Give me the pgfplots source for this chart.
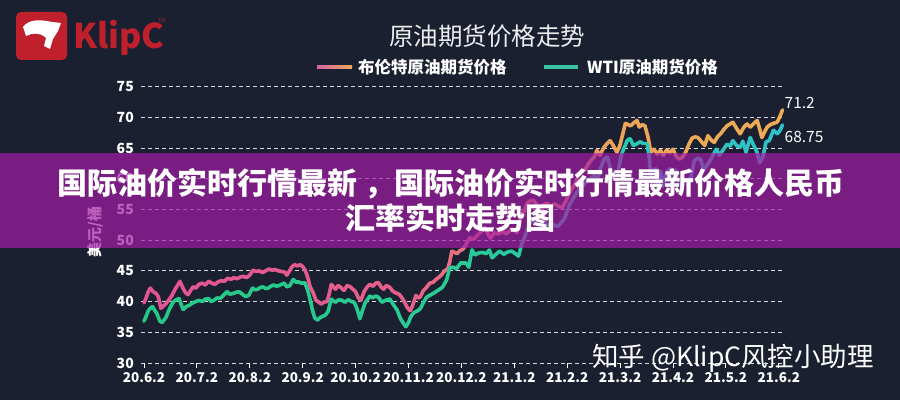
\documentclass[border=0pt]{standalone}
\usepackage{pgfplots}
\usepackage{pgfplotstable}
\pgfplotsset{compat=1.18}
\usepackage{fontspec}
\setmainfont{Noto Sans CJK SC}

\definecolor{bgnavy}{RGB}{26,32,48}
\definecolor{gridwhite}{RGB}{215,218,225}
\definecolor{bannerpurple}{RGB}{163,29,165}
\definecolor{klipred}{RGB}{192,32,44}
\definecolor{brentpink}{RGB}{212,100,170}
\definecolor{brentorange}{RGB}{236,170,84}
\definecolor{wtiteal}{RGB}{60,197,164}

\pgfplotsset{
  colormap={brentmap}{rgb255(0cm)=(226,84,148) rgb255(5cm)=(229,96,138) rgb255(7cm)=(233,130,118) rgb255(9cm)=(236,165,90) rgb255(12cm)=(237,172,84)},
  colormap={wtimap}{rgb255(0cm)=(38,200,134) rgb255(6cm)=(42,202,150) rgb255(9cm)=(44,198,180) rgb255(12cm)=(48,192,200)},
}

% Brent futures, x = months since 2020-06-02
\pgfplotstableread{
m p
0.00 39.8
0.04 40.6
0.08 41.6
0.12 42.2
0.17 41.6
0.22 41.4
0.27 40.8
0.32 38.9
0.37 39.3
0.42 39.7
0.48 40.4
0.53 41.0
0.58 41.9
0.63 42.6
0.68 43.3
0.73 42.3
0.78 41.5
0.83 41.1
0.88 41.8
0.93 42.4
0.98 42.2
1.04 42.8
1.10 43.0
1.16 42.7
1.22 43.3
1.28 43.0
1.34 42.8
1.40 43.2
1.46 43.4
1.52 43.3
1.58 43.8
1.64 43.6
1.70 43.9
1.76 43.7
1.82 44.0
1.88 44.1
1.94 43.9
2.00 44.3
2.06 45.1
2.12 44.9
2.18 45.0
2.24 44.7
2.30 45.0
2.36 45.3
2.42 45.1
2.48 45.2
2.54 45.0
2.60 44.9
2.66 44.8
2.70 44.3
2.75 45.0
2.80 45.7
2.85 46.0
2.90 45.8
2.95 46.0
3.00 45.7
3.04 45.2
3.09 44.1
3.14 42.4
3.20 41.4
3.25 40.2
3.29 40.0
3.35 39.6
3.40 39.9
3.46 40.0
3.50 41.2
3.54 42.8
3.58 42.4
3.62 42.0
3.67 42.6
3.72 42.3
3.78 41.8
3.84 42.6
3.90 42.4
3.95 42.0
4.00 41.6
4.05 40.6
4.10 40.2
4.16 41.6
4.22 42.4
4.27 42.8
4.33 42.5
4.38 43.0
4.43 43.1
4.48 42.4
4.53 42.0
4.58 42.6
4.65 42.3
4.70 41.7
4.76 41.4
4.82 41.2
4.87 40.7
4.92 40.0
4.97 39.1
5.03 38.5
5.07 39.2
5.10 39.9
5.14 41.0
5.18 40.6
5.22 40.7
5.28 41.8
5.34 42.3
5.40 43.0
5.46 43.1
5.52 43.6
5.58 44.0
5.63 44.4
5.68 45.0
5.74 45.3
5.78 46.5
5.82 48.2
5.87 48.0
5.92 47.8
5.97 48.3
6.03 48.5
6.08 49.2
6.12 49.9
6.16 50.4
6.22 50.1
6.29 50.7
6.35 51.2
6.40 51.6
6.45 52.1
6.50 51.0
6.55 50.3
6.62 51.2
6.70 51.0
6.78 51.4
6.85 51.0
6.92 51.6
6.98 51.8
7.05 51.2
7.12 54.0
7.18 54.5
7.24 56.0
7.30 56.4
7.36 56.5
7.42 55.8
7.48 55.2
7.55 55.8
7.62 56.0
7.68 55.4
7.75 55.9
7.82 55.6
7.90 55.2
7.97 56.3
8.04 57.6
8.10 58.5
8.16 59.3
8.22 60.6
8.28 61.2
8.34 61.5
8.40 62.4
8.45 63.0
8.52 63.6
8.56 64.6
8.62 63.8
8.68 64.9
8.75 65.7
8.81 66.2
8.87 65.4
8.94 64.3
9.00 65.5
9.05 67.3
9.10 69.0
9.15 68.8
9.20 68.6
9.26 69.1
9.32 69.5
9.36 68.4
9.42 68.8
9.47 68.6
9.53 66.7
9.58 64.3
9.64 64.8
9.70 64.0
9.76 64.6
9.82 63.8
9.88 64.7
9.94 64.2
10.00 64.8
10.06 63.6
10.12 63.2
10.18 63.5
10.24 64.3
10.30 65.6
10.36 66.6
10.42 66.8
10.47 66.7
10.52 66.2
10.60 65.4
10.66 67.0
10.72 66.3
10.78 65.9
10.84 66.8
10.90 67.3
10.96 68.0
11.02 68.6
11.08 68.9
11.13 69.2
11.20 68.2
11.27 67.3
11.34 68.4
11.40 68.9
11.46 68.4
11.53 69.0
11.59 69.5
11.64 68.0
11.68 66.7
11.73 67.6
11.78 68.4
11.84 68.8
11.90 69.0
11.97 69.2
12.02 70.1
12.07 71.2
}\brent

% WTI futures, x = months since 2020-06-02
\pgfplotstableread{
m p
0.00 36.8
0.04 37.6
0.08 38.5
0.12 38.9
0.16 39.2
0.20 38.6
0.24 38.1
0.30 36.8
0.34 36.6
0.38 37.0
0.42 37.5
0.46 38.4
0.51 39.3
0.56 40.0
0.61 40.3
0.66 40.5
0.70 39.6
0.74 38.7
0.80 39.2
0.86 39.4
0.92 39.8
0.98 40.0
1.04 40.2
1.10 40.0
1.16 40.4
1.22 40.5
1.27 40.0
1.32 40.2
1.38 40.6
1.44 40.5
1.50 41.0
1.57 41.6
1.62 41.2
1.68 41.3
1.74 41.5
1.80 41.6
1.86 41.2
1.92 40.8
1.98 41.0
2.05 42.2
2.10 41.9
2.15 42.0
2.20 42.3
2.25 42.4
2.30 42.1
2.35 42.2
2.40 42.5
2.45 42.7
2.50 42.5
2.55 42.6
2.60 42.8
2.65 43.0
2.70 42.4
2.76 42.6
2.82 43.6
2.87 43.2
2.92 43.2
2.97 43.0
3.04 43.0
3.09 42.0
3.14 40.3
3.19 38.4
3.23 37.3
3.28 37.0
3.33 37.4
3.38 37.6
3.43 37.8
3.48 38.4
3.54 40.4
3.58 40.1
3.62 39.9
3.68 40.3
3.74 40.2
3.80 39.9
3.86 40.3
3.92 40.0
3.97 39.9
4.02 39.0
4.08 37.2
4.12 38.3
4.18 39.8
4.27 40.9
4.32 40.6
4.38 40.9
4.43 40.7
4.50 39.9
4.56 40.2
4.65 40.4
4.72 39.4
4.78 38.7
4.85 37.2
4.90 36.5
4.95 35.9
5.00 36.6
5.04 37.5
5.10 38.2
5.17 38.5
5.22 38.8
5.28 39.8
5.34 40.7
5.42 41.1
5.50 41.5
5.57 41.9
5.64 42.3
5.72 43.5
5.78 45.5
5.85 45.6
5.90 45.3
5.99 46.3
6.08 46.3
6.14 45.6
6.20 48.4
6.26 47.6
6.32 47.9
6.40 48.0
6.47 47.8
6.53 48.4
6.58 47.1
6.64 47.6
6.72 48.2
6.80 47.7
6.88 48.1
6.95 48.2
7.02 47.8
7.08 47.4
7.14 49.3
7.20 50.6
7.26 52.2
7.32 53.2
7.38 52.9
7.46 52.4
7.55 53.3
7.62 52.3
7.72 52.6
7.82 52.2
7.95 53.5
8.04 55.7
8.12 56.9
8.20 58.0
8.28 58.7
8.36 59.5
8.45 60.1
8.52 60.5
8.56 59.2
8.62 61.5
8.70 63.2
8.76 63.5
8.82 61.5
8.90 60.6
8.96 61.0
9.02 63.8
9.08 65.1
9.14 66.3
9.19 66.5
9.25 65.4
9.32 65.7
9.38 66.0
9.44 65.7
9.51 65.7
9.55 63.5
9.58 60.5
9.63 61.4
9.68 61.6
9.72 58.2
9.77 61.2
9.82 58.8
9.88 61.0
9.94 61.6
10.00 59.5
10.05 61.4
10.12 58.9
10.20 59.6
10.28 59.8
10.34 60.2
10.40 62.9
10.46 63.3
10.52 63.2
10.58 61.4
10.64 62.2
10.70 62.9
10.76 63.9
10.82 64.8
10.88 63.8
10.94 64.6
11.02 65.6
11.08 65.3
11.13 66.2
11.20 65.4
11.27 65.1
11.32 66.1
11.38 64.3
11.46 66.7
11.52 65.5
11.58 64.5
11.64 62.6
11.70 63.6
11.76 66.0
11.82 66.2
11.90 67.9
11.97 67.3
12.02 67.8
12.07 68.75
}\wti

\begin{document}
\begin{tikzpicture}[x=1pt,y=1pt]
\useasboundingbox (0,0) rectangle (900,400);
\fill[bgnavy] (0,0) rectangle (900,400);

\begin{axis}[
  at={(141pt,37pt)}, anchor=south west,
  scale only axis, width=644pt, height=276.5pt,
  xmin=-0.057, xmax=12.117, ymin=30, ymax=75,
  axis lines*=left, axis line style={draw=none},
  xtick={0,...,12},
  xticklabels={20.6.2,20.7.2,20.8.2,20.9.2,20.10.2,20.11.2,20.12.2,21.1.2,21.2.2,21.3.2,21.4.2,21.5.2,21.6.2},
  ytick={30,35,...,75},
  ymajorgrids,
  major grid style={gridwhite, line width=0.8pt, dash pattern=on 4pt off 3pt},
  tick align=outside,
  major tick length=5pt,
  xtick style={white, line width=0.9pt},
  ytick style={draw=none},
  /pgf/number format/assume math mode=true,
  x tick label style={text=white, font=\bfseries\fontsize{13.5}{14}\selectfont, inner sep=0pt, yshift=-4pt},
  y tick label style={text=white, font=\bfseries\fontsize{14}{15}\selectfont, inner sep=0pt, xshift=-2pt},
  point meta min=0, point meta max=12,
  clip=false,
]
\addplot[mesh, colormap name=brentmap, point meta=x, line width=3.6pt, line cap=round, line join=round] table[x=m, y=p] {\brent};
\addplot[mesh, colormap name=wtimap, point meta=x, line width=3.6pt, line cap=round, line join=round] table[x=m, y=p] {\wti};
\node[anchor=west, inner sep=0pt, text=white, font=\fontsize{15.5}{16}\selectfont, xshift=2pt, yshift=7pt] at (axis cs:12.07,71.2) {71.2};
\node[anchor=west, inner sep=0pt, text=white, font=\fontsize{15.5}{16}\selectfont, xshift=2pt, yshift=-12pt] at (axis cs:12.07,68.75) {68.75};
\end{axis}

% unit label of the value axis
\node[rotate=90, text=white, font=\bfseries\fontsize{15}{16}\selectfont] at (95,168) {美元/桶};

% headline banner
\fill[bannerpurple, fill opacity=0.7] (0,152) rectangle (900,247);
\node[text=white, font=\bfseries\fontsize{30}{35}\selectfont, align=center] at (451,199.5)
  {国际油价实时行情最新 ，国际油价实时行情最新价格人民币\\汇率实时走势图};

% title
\node[text=white!92!bgnavy, font=\fontsize{24.5}{26}\selectfont] at (487,364) {原油期货价格走势};

% legend
\shade[left color=brentpink, right color=brentorange] (317,331.2) rectangle (352,334.8);
\node[anchor=west, inner sep=0pt, text=white, font=\bfseries\fontsize{16.5}{17}\selectfont] at (358,333) {布伦特原油期货价格};
\fill[wtiteal] (544,331.2) rectangle (578,334.8);
\node[anchor=west, inner sep=0pt, text=white, font=\bfseries\fontsize{16.5}{17}\selectfont] at (587,333) {WTI原油期货价格};

% logo
\fill[klipred, rounded corners=5pt] (16,340) rectangle (67,388);
\fill[white] (23,373) .. controls (30,382) and (42,380) .. (52,378) -- (61,377) -- (58,369)
  -- (53,361) -- (50,351) -- (44,354) -- (46,362) .. controls (40,368) and (32,367) .. (26,364) -- cycle;
\node[anchor=west, inner sep=0pt, text=klipred, font=\bfseries\fontsize{34}{34}\selectfont] at (73,362) {KlipC};
\node[text=klipred, font=\fontsize{5}{5}\selectfont] at (162,379) {TM};

% signature
\node[anchor=west, inner sep=0pt, text=white, font=\fontsize{26.5}{28}\selectfont] at (592,42) {知乎 @KlipC风控小助理};
\end{tikzpicture}
\end{document}
